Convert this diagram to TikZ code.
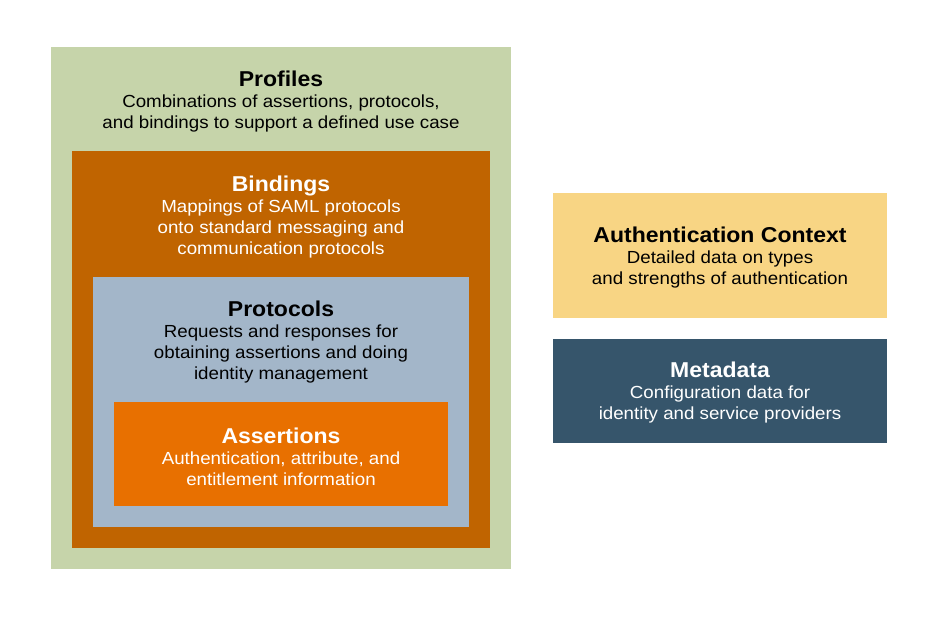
\documentclass[tikz,border=0pt]{standalone}
\usepackage{fontspec}
\setmainfont{Liberation Sans}[FakeStretch=1.07]
\definecolor{profilegreen}{HTML}{C6D4AA}
\definecolor{bindingbrown}{HTML}{C06400}
\definecolor{protocolblue}{HTML}{A3B6C9}
\definecolor{assertorange}{HTML}{E87000}
\definecolor{contextyellow}{HTML}{F8D584}
\definecolor{metanavy}{HTML}{36556B}
\newcommand{\layertitle}[1]{{\fontsize{21.5}{24}\selectfont\bfseries #1}\\[0pt]}
\tikzset{
  layertext/.style={align=center, font=\fontsize{17.5}{21}\selectfont, inner sep=0pt},
}
\begin{document}
\begin{tikzpicture}[x=1pt, y=-1pt]
	\useasboundingbox (0,0) rectangle (949,617);
	% Nested layers
	\fill[profilegreen] (51,47) rectangle (511,569);
	\node[layertext] (profiles) at (281,101.5) {\layertitle{Profiles}Combinations of assertions, protocols,\\and bindings to support a defined use case};
	\fill[bindingbrown] (72,151) rectangle (490,548);
	\node[layertext, text=white] (bindings) at (281,217) {\layertitle{Bindings}Mappings of SAML protocols\\onto standard messaging and\\communication protocols};
	\fill[protocolblue] (93,277) rectangle (469,527);
	\node[layertext] (protocols) at (281,342.5) {\layertitle{Protocols}Requests and responses for\\obtaining assertions and doing\\identity management};
	\fill[assertorange] (114,402) rectangle (448,506);
	\node[layertext, text=white] (assertions) at (281,456.5) {\layertitle{Assertions}Authentication, attribute, and\\entitlement information};
	% Side boxes
	\fill[contextyellow] (553,193) rectangle (887,318);
	\node[layertext] (context) at (720,257.5) {\layertitle{Authentication Context}Detailed data on types\\and strengths of authentication};
	\fill[metanavy] (553,339) rectangle (887,443);
	\node[layertext, text=white] (metadata) at (720,392.5) {\layertitle{Metadata}Configuration data for\\identity and service providers};
\end{tikzpicture}
\end{document}
